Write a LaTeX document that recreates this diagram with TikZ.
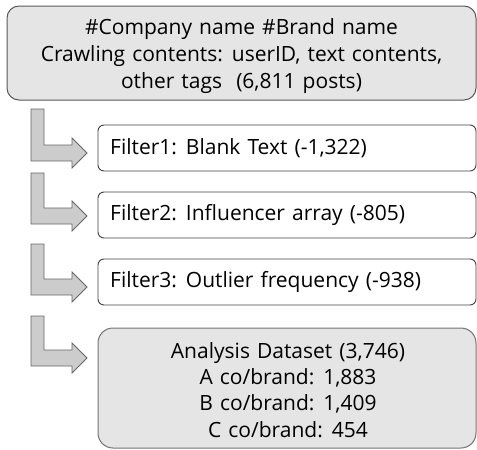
\documentclass[tikz,border=0pt]{standalone}
\usepackage{fontspec}
\setmainfont{Open Sans}[WordSpace=1.3]
\begin{document}
\begin{tikzpicture}[x=1pt,y=-1pt,
  txt/.style={font=\fontsize{21}{27}\selectfont},
  fintxt/.style={font=\fontsize{21}{26.3}\selectfont},
  topbox/.style={draw=black!65,fill=black!10,line width=1pt,rounded corners=12pt},
  filterbox/.style={draw=black!75,fill=white,line width=0.9pt,rounded corners=6pt},
  finalbox/.style={draw=black!55,fill=black!10,line width=1pt,rounded corners=15pt},
  bentarrow/.style={draw=black!60,fill=black!20,line width=0.8pt}]
\useasboundingbox (0,0) rectangle (477,450);
% boxes
\draw[topbox] (7,6) rectangle (476,100);
\node[txt,align=center] (top) at (241.5,56) {\#Company name \#Brand name\\Crawling contents: userID, text contents,\\other tags~~(6,811 posts)};
\draw[filterbox] (98,125) rectangle (476,171);
\node[txt,anchor=west,inner sep=0pt] (f1) at (110,148) {Filter1: Blank Text (-1,322)};
\draw[filterbox] (98,192) rectangle (476,238);
\node[txt,anchor=west,inner sep=0pt] (f2) at (110,215) {Filter2: Influencer array (-805)};
\draw[filterbox] (98,259) rectangle (476,305);
\node[txt,anchor=west,inner sep=0pt] (f3) at (110,282) {Filter3: Outlier frequency (-938)};
\draw[finalbox] (98,328) rectangle (476,448);
\node[fintxt,align=center] (fin) at (288,390) {Analysis Dataset (3,746)\\A co/brand: 1,883\\B co/brand: 1,409\\C co/brand: 454};
% bent arrows
\foreach \T/\C in {109/153,173/216,244/287,316/358}{
  \draw[bentarrow] (31,\T) -- (44,\T) -- (44,\C-8) -- (72,\C-8) -- (72,\C-15) -- (87,\C) -- (72,\C+15) -- (72,\C+8) -- (31,\C+8) -- cycle;
}
\end{tikzpicture}
\end{document}
